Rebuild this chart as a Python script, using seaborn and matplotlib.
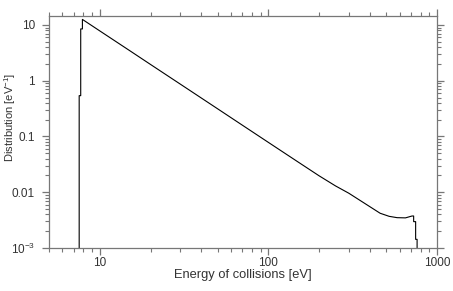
import matplotlib
matplotlib.use("Agg")
import matplotlib.pyplot as plt
import seaborn as sns
import pandas as pd
from matplotlib.ticker import NullFormatter, LogLocator

# Data (histogram of collision energies)
energy = [7.55, 7.55, 7.71, 7.71, 7.89, 7.89, 10, 15, 20, 30, 50, 70, 100, 150,
          200, 250, 300, 370, 460, 520, 580, 650, 711, 727, 727, 747, 747, 762, 762]
distribution = [1e-4, 0.54, 0.54, 8.5, 8.5, 12.6, 7.84, 3.49, 1.96, 0.872, 0.314,
                0.160, 0.0784, 0.0349, 0.0197, 0.0130, 0.0096, 0.0064, 0.0042,
                0.0037, 0.00350, 0.00347, 0.00375, 0.00375, 0.00297, 0.00297,
                0.00143, 0.00143, 1e-4]

x_ticks = [10, 100, 1000]
x_tick_labels = ["10", "100", "1000"]
y_ticks = [1e-3, 0.01, 0.1, 1, 10]
y_tick_labels = [r"$\mathregular{10^{-3}}$", "0.01", "0.1", "1", "10"]

sns.set_theme(style="ticks")
plt.rcParams["font.family"] = ["Liberation Sans", "DejaVu Sans"]
plt.rcParams["mathtext.fontset"] = "custom"
plt.rcParams["mathtext.rm"] = "Liberation Sans"

fig = plt.figure(figsize=(4.53, 2.91), dpi=100)
ax = fig.add_axes([49 / 453, 1 - 248 / 291, (437 - 49) / 453, (248 - 16) / 291])

df = pd.DataFrame({"energy": energy, "distribution": distribution})
sns.lineplot(data=df, x="energy", y="distribution", ax=ax, color="black",
             linewidth=0.8, estimator=None, sort=False)

ax.set_xscale("log")
ax.set_yscale("log")
ax.set_xlim(5, 1000)
ax.set_ylim(1e-3, 14.5)

grey = "#777777"
for sp in ax.spines.values():
    sp.set_visible(True)
    sp.set_color(grey)
    sp.set_linewidth(0.9)

ax.set_xticks(x_ticks)
ax.set_xticklabels(x_tick_labels)
ax.set_yticks(y_ticks)
ax.set_yticklabels(y_tick_labels)
ax.xaxis.set_minor_locator(LogLocator(base=10, subs=range(2, 10), numticks=20))
ax.yaxis.set_minor_locator(LogLocator(base=10, subs=range(2, 10), numticks=20))
ax.xaxis.set_minor_formatter(NullFormatter())
ax.yaxis.set_minor_formatter(NullFormatter())

ax.tick_params(axis="both", which="major", direction="out", length=5, width=0.9,
               color=grey, labelsize=8.5, labelcolor="#333333",
               top=True, right=True)
ax.tick_params(axis="x", which="major", pad=1.5)
ax.tick_params(axis="y", which="major", pad=5)
ax.tick_params(axis="both", which="minor", direction="out", length=3, width=0.8,
               color=grey, top=True, right=True)

ax.set_xlabel("Energy of collisions [eV]", fontsize=9.3, color="#333333")
ax.set_ylabel(r"Distribution [eV$^{-1}$]", fontsize=8, color="#333333")
ax.xaxis.label.set_va("center")
ax.yaxis.label.set_va("center")
ax.xaxis.set_label_coords(0.5, (248 - 275) / 232)
ax.yaxis.set_label_coords((10 - 49) / 388, (248 - 117) / 232)

fig.savefig("out.png", dpi=100)
